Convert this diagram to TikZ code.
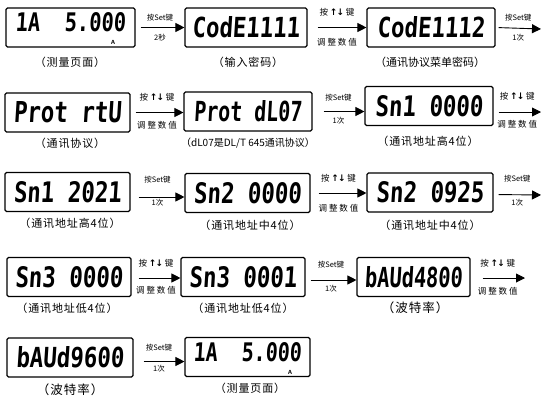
\documentclass[tikz,border=0pt]{standalone}
\usepackage{fontspec}
\usetikzlibrary{arrows.meta}
\newfontfamily\cjk{Noto Sans CJK SC}
\newfontfamily\cjksp[LetterSpace=8]{Noto Sans CJK SC}
\newfontfamily\lcdfont[FakeSlant=0.08]{DejaVu Sans Mono}
\newfontfamily\symf{DejaVu Sans}
\newcommand\lcdtxt[2][108pt]{\resizebox{#1}{21pt}{\lcdfont\bfseries #2}}
\newcommand\lcdtxts[2][108pt]{\resizebox{#1}{19pt}{\lcdfont\bfseries #2}}
\newcommand\updn{{\symf\bfseries\fontsize{9}{9}\selectfont ↑\kern-1pt↓}}
\tikzset{
  lcdbox/.style={draw, line width=1.1pt, rounded corners=1.5pt, inner sep=0pt, minimum height=39pt},
  lcdin/.style={inner sep=0pt},
  captxt/.style={font=\cjksp\fontsize{11}{11}\selectfont, inner sep=0pt},
  capbig/.style={font=\cjksp\fontsize{12.5}{12.5}\selectfont, inner sep=0pt},
  labsm/.style={font=\cjk\fontsize{7.5}{7.5}\selectfont, inner sep=0pt},
  labbig/.style={font=\cjk\fontsize{8.5}{8.5}\selectfont, inner sep=0pt},
  unitlbl/.style={font=\sffamily\bfseries\fontsize{6}{6}\selectfont, inner sep=0pt},
  arr/.style={line width=0.9pt, -{Triangle[length=9pt,width=9pt]}},
}
\begin{document}
\begin{tikzpicture}[x=1pt, y=-1pt]
\useasboundingbox[fill=white] (0,0) rectangle (543,397);
% row 1
\node[lcdbox, minimum width=129pt] (b1) at (70.5,27.5) {};
\node[lcdin] (d1) at (70.5,22.5) {\lcdtxts[110pt]{1A~~5.000}};
\node[unitlbl] (u1) at (113,42.5) {A};
\node[lcdbox, minimum width=122pt] (b2) at (246,27.5) {\lcdtxt{CodE1111}};
\node[lcdbox, minimum width=128pt] (b3) at (431,27.5) {\lcdtxt{CodE1112}};
\coordinate (e3) at (541,29);
\node[captxt] (c1) at (70,62) {（测量页面）};
\node[captxt] (c2) at (248,62) {（输入密码）};
\node[captxt, font=\cjk\fontsize{11}{11}\selectfont] (c3) at (430,62) {（通讯协议菜单密码）};
\draw[arr, shorten <=5pt] (b1.east) -- (b1.east -| b2.west)
  node[labsm, midway, yshift=10pt] (t1) {按Set键}
  node[labsm, midway, yshift=-10pt] (s1) {2秒};
\draw[arr, shorten <=10pt] (b2.east) -- (b2.east -| b3.west)
  node[labbig, midway, yshift=15pt] (t2) {按 \updn\ 键}
  node[labbig, midway, yshift=-15pt] (s2) {调 整 数 值};
\draw[arr, shorten <=3pt] (b3.east) -- (e3)
  node[labsm, midway, yshift=11pt] (t3) {按Set键}
  node[labsm, midway, yshift=-9pt] (s3) {1次};
% row 2
\node[lcdbox, minimum width=125pt] (b4) at (67.5,112.5) {\lcdtxt{Prot~rtU}};
\node[lcdbox, minimum width=128pt] (b5) at (248,111.5) {\lcdtxt{Prot~dL07}};
\node[lcdbox, minimum width=128pt] (b6) at (429,106) {\lcdtxt{Sn1~0000}};
\coordinate (e6) at (541,112);
\node[captxt] (c4) at (70,143) {（通讯协议）};
\node[captxt, font=\cjk\fontsize{10}{10}\selectfont] (c5) at (248,143) {（dL07是DL/T 645通讯协议）};
\node[captxt] (c6) at (428,141) {（通讯地址高4位）};
\draw[arr, shorten <=5pt] (b4.east) -- (b4.east -| b5.west)
  node[labbig, midway, yshift=15pt] (t4) {按 \updn\ 键}
  node[labbig, midway, yshift=-13pt] (s4) {调 整 数 值};
\draw[arr, shorten <=11pt] (b5.east) -- (b5.east -| b6.west)
  node[labsm, midway, yshift=14pt] (t5) {按Set键}
  node[labsm, midway, yshift=-9pt] (s5) {1次};
\draw[arr, shorten <=5pt] ([yshift=-6pt]b6.east) -- (e6)
  node[labbig, midway, yshift=16pt] (t6) {按 \updn\ 键}
  node[labbig, midway, yshift=-12pt] (s6) {调 整 数 值};
% row 3
\node[lcdbox, minimum width=125pt] (b7) at (67.5,192) {\lcdtxt{Sn1~2021}};
\node[lcdbox, minimum width=125pt] (b8) at (247.5,193) {\lcdtxt{Sn2~0000}};
\node[lcdbox, minimum width=126pt] (b9) at (430,192.5) {\lcdtxt{Sn2~0925}};
\coordinate (e9) at (541,195);
\node[captxt] (c7) at (70,223) {（通讯地址高4位）};
\node[captxt] (c8) at (250,225) {（通讯地址中4位）};
\node[captxt] (c9) at (430,225) {（通讯地址中4位）};
\draw[arr, shorten <=8pt] ([yshift=-5pt]b7.east) -- ([yshift=-5pt]b7.east -| b8.west)
  node[labsm, midway, yshift=17pt] (t7) {按Set键}
  node[labsm, midway, yshift=-6pt] (s7) {1次};
\draw[arr, shorten <=8pt] (b8.east) -- (b8.east -| b9.west)
  node[labbig, midway, yshift=15pt] (t8) {按 \updn\ 键}
  node[labbig, midway, yshift=-15pt] (s8) {调 整 数 值};
\draw[arr, shorten <=5pt] ([yshift=-2pt]b9.east) -- (e9)
  node[labsm, midway, yshift=16pt] (t9) {按Set键}
  node[labsm, midway, yshift=-8pt] (s9) {1次};
% row 4
\node[lcdbox, minimum width=124pt] (b10) at (69,277) {\lcdtxt{Sn3~0000}};
\node[lcdbox, minimum width=124pt] (b11) at (243,277) {\lcdtxt{Sn3~0001}};
\node[lcdbox, minimum width=113pt] (b12) at (413.5,277) {\lcdtxt[98pt]{bAUd4800}};
\coordinate (e12) at (525,278);
\node[captxt] (c10) at (67,308) {（通讯地址低4位）};
\node[captxt] (c11) at (243,308) {（通讯地址低4位）};
\node[capbig] (c12) at (415,308) {（波特率）};
\draw[arr, shorten <=7pt] ([yshift=-1pt]b10.east) -- ([yshift=-1pt]b10.east -| b11.west)
  node[labbig, midway, yshift=15pt] (t10) {按 \updn\ 键}
  node[labbig, midway, yshift=-12pt] (s10) {调 整 数 值};
\draw[arr, shorten <=5pt] ([yshift=-3pt]b11.east) -- ([yshift=-3pt]b11.east -| b12.west)
  node[labsm, midway, yshift=15pt] (t11) {按Set键}
  node[labsm, midway, yshift=-9pt] (s11) {1次};
\draw[arr, shorten <=12pt] ([yshift=-1pt]b12.east) -- (e12)
  node[labbig, midway, yshift=15pt] (t12) {按 \updn\ 键}
  node[labbig, midway, yshift=-13pt] (s12) {调 整 数 值};
% row 5
\node[lcdbox, minimum width=126pt] (b13) at (70,357.5) {\lcdtxt{bAUd9600}};
\node[lcdbox, minimum width=125pt] (b14) at (247.5,357) {};
\node[lcdin] (d14) at (247.5,352) {\lcdtxts[108pt]{1A~~5.000}};
\node[unitlbl] (u14) at (290,372) {A};
\node[capbig] (c13) at (70,390) {（波特率）};
\node[captxt] (c14) at (250,388) {（测量页面）};
\draw[arr, shorten <=10pt] ([yshift=-4pt]b13.east) -- ([yshift=-4pt]b13.east -| b14.west)
  node[labsm, midway, yshift=14pt] (t13) {按Set键}
  node[labsm, midway, yshift=-7pt] (s13) {1次};
\end{tikzpicture}
\end{document}
